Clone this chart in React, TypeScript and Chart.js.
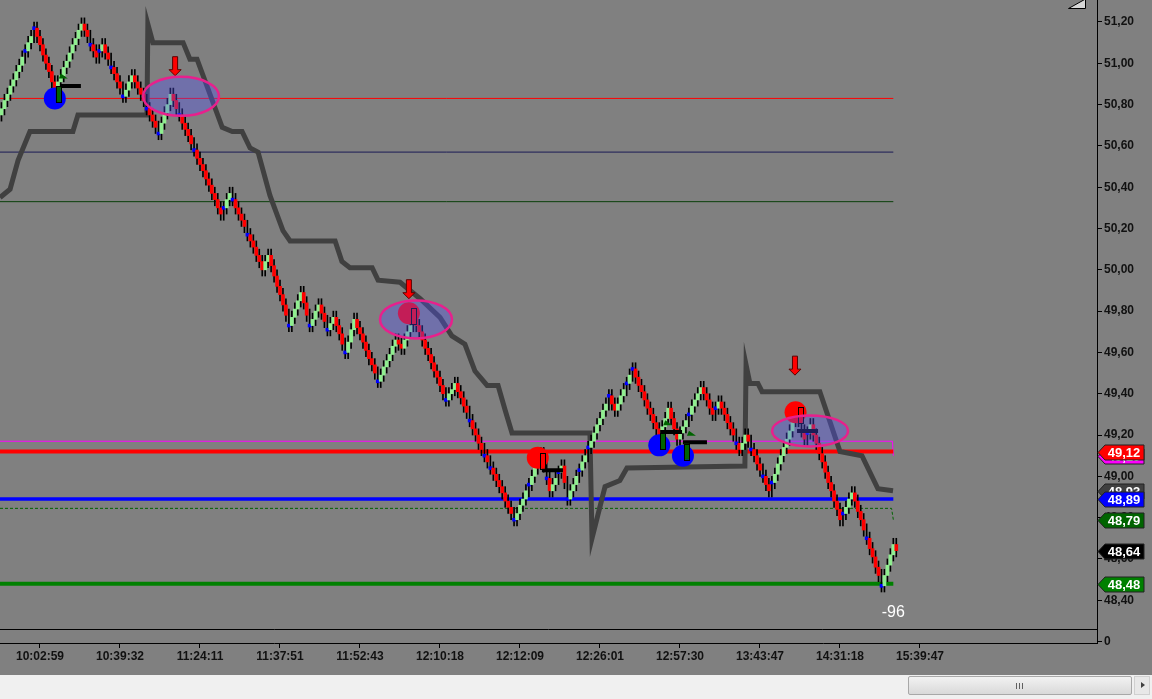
import React, { useEffect, useRef } from 'react';
import { Chart, registerables } from 'chart.js';

Chart.register(...registerables);

// ---------- data ----------
const timeLabels = ['10:02:59', '10:39:32', '11:24:11', '11:37:51', '11:52:43', '12:10:18', '12:12:09', '12:26:01', '12:57:30', '13:43:47', '14:31:18', '15:39:47'];
const tickBars = [13, 40, 67, 94, 121, 148, 175, 202, 229, 256, 283, 310];
const yTickValues = [48.4, 48.6, 48.8, 49.0, 49.2, 49.4, 49.6, 49.8, 50.0, 50.2, 50.4, 50.6, 50.8, 51.0, 51.2];

const firstOpen = 50.75;
const closes = [
  50.78, 50.82, 50.85, 50.89, 50.92, 50.96, 50.99, 51.03, 51.06, 51.10,
  51.13, 51.17, 51.13, 51.09, 51.04, 51.00, 50.96, 50.91, 50.87, 50.91,
  50.94, 50.98, 51.01, 51.05, 51.09, 51.12, 51.16, 51.19, 51.16, 51.13,
  51.09, 51.06, 51.03, 51.06, 51.09, 51.05, 51.02, 50.98, 50.95, 50.91,
  50.88, 50.84, 50.87, 50.91, 50.94, 50.91, 50.88, 50.85, 50.82, 50.78,
  50.75, 50.72, 50.69, 50.66, 50.71, 50.76, 50.80, 50.85, 50.82, 50.78,
  50.75, 50.71, 50.68, 50.65, 50.61, 50.58, 50.54, 50.51, 50.48, 50.44,
  50.41, 50.37, 50.34, 50.30, 50.27, 50.30, 50.34, 50.37, 50.34, 50.30,
  50.27, 50.24, 50.21, 50.17, 50.14, 50.11, 50.07, 50.04, 50.00, 50.04,
  50.07, 50.02, 49.97, 49.92, 49.88, 49.83, 49.78, 49.73, 49.77, 49.81,
  49.85, 49.89, 49.84, 49.78, 49.73, 49.76, 49.80, 49.83, 49.79, 49.75,
  49.71, 49.74, 49.77, 49.73, 49.69, 49.64, 49.60, 49.65, 49.71, 49.76,
  49.72, 49.69, 49.65, 49.61, 49.57, 49.54, 49.50, 49.46, 49.49, 49.53,
  49.56, 49.59, 49.63, 49.66, 49.64, 49.62, 49.66, 49.70, 49.73, 49.77,
  49.73, 49.70, 49.66, 49.62, 49.59, 49.55, 49.51, 49.48, 49.44, 49.40,
  49.37, 49.40, 49.42, 49.45, 49.41, 49.38, 49.34, 49.31, 49.27, 49.23,
  49.20, 49.16, 49.13, 49.10, 49.07, 49.04, 49.01, 48.98, 48.95, 48.92,
  48.88, 48.85, 48.82, 48.79, 48.82, 48.86, 48.89, 48.93, 48.96, 49.00,
  49.04, 49.07, 49.11, 49.05, 48.99, 48.93, 48.96, 48.99, 49.02, 49.05,
  48.97, 48.89, 48.93, 48.96, 49.00, 49.03, 49.07, 49.10, 49.14, 49.17,
  49.21, 49.25, 49.28, 49.32, 49.35, 49.39, 49.35, 49.32, 49.35, 49.39,
  49.42, 49.45, 49.49, 49.52, 49.48, 49.44, 49.41, 49.37, 49.33, 49.30,
  49.26, 49.23, 49.19, 49.24, 49.28, 49.33, 49.28, 49.23, 49.18, 49.21,
  49.24, 49.27, 49.30, 49.34, 49.37, 49.40, 49.43, 49.40, 49.37, 49.33,
  49.30, 49.33, 49.36, 49.33, 49.30, 49.26, 49.23, 49.20, 49.16, 49.13,
  49.16, 49.20, 49.17, 49.13, 49.10, 49.06, 49.03, 49.00, 48.96, 48.93,
  48.97, 49.01, 49.06, 49.10, 49.14, 49.18, 49.22, 49.27, 49.31, 49.27,
  49.22, 49.18, 49.21, 49.25, 49.20, 49.16, 49.11, 49.07, 49.02, 48.97,
  48.93, 48.88, 48.84, 48.79, 48.82, 48.85, 48.89, 48.92, 48.88, 48.83,
  48.79, 48.74, 48.70, 48.65, 48.61, 48.56, 48.52, 48.47, 48.52, 48.57,
  48.62, 48.67, 48.64,
];
const dojiBars = [8, 11, 30, 33, 37, 41, 49, 53, 60, 65, 75, 78, 83, 97, 104, 110, 116, 127, 139, 150, 158, 163, 165, 173, 178, 181, 184, 188, 191, 195, 198, 205, 211, 213, 232, 241, 248, 253, 257, 260, 268, 270, 272, 284, 292, 297];

// trailing stop (thick dark grey line), vertices
const stopBars = [-0.5, 2.9, 5.6, 9.6, 24.1, 25.8, 49.1, 49.4, 51.1, 61.3, 63.6, 66.0, 74.5, 77.9, 81.2, 83.9, 86.6, 90.6, 95.0, 97.4, 112.6, 114.9, 117.6, 125.1, 127.1, 134.5, 137.9, 141.3, 148, 152, 156.4, 159.8, 163.9, 167.6, 170, 172.3, 198.6, 199.3, 203.7, 208.7, 211.1, 250.9, 251.3, 252.6, 255.3, 256.7, 276.2, 283, 290.4, 295.8, 300.9];
const stopPrices = [50.35, 50.39, 50.53, 50.67, 50.67, 50.75, 50.75, 51.19, 51.10, 51.10, 51.02, 51.02, 50.69, 50.67, 50.67, 50.59, 50.57, 50.36, 50.19, 50.14, 50.14, 50.04, 50.01, 50.01, 49.95, 49.94, 49.90, 49.86, 49.77, 49.68, 49.64, 49.51, 49.44, 49.44, 49.32, 49.21, 49.21, 48.70, 48.95, 48.98, 49.04, 49.05, 49.54, 49.45, 49.45, 49.41, 49.41, 49.12, 49.10, 48.94, 48.93];

// horizontal levels
const levelStartBar = -0.5;
const levelEndBar = 301;
const redThinLevel = 50.83;
const navyLevel = 50.57;
const greenThinLevel = 50.33;
const magentaLevel = 49.17;
const magentaLevelEnd = 49.10;
const redLevel = 49.12;
const blueLevel = 48.89;
const dashedGreenLevel = 48.845;
const dashedGreenLevelEnd = 48.79;
const greenLevel = 48.48;
const lastTrailValue = 48.93;
const lastPrice = 48.64;

// price tags on the right axis
const tagPrices = [magentaLevelEnd, redLevel, lastTrailValue, blueLevel, dashedGreenLevelEnd, lastPrice, greenLevel];

// trade markers
const buyBars = [18, 222, 230];
const buyPrices = [50.83, 49.15, 49.10];
const sellBars = [181, 137.5, 268];
const sellPrices = [49.09, 49.79, 49.31];
const dashStartBars = [19.8, 182.4, 222.3, 230, 268.5];
const dashEndBars = [26.8, 189.5, 229.7, 238.1, 275.6];
const dashPrices = [50.89, 49.03, 49.215, 49.165, 49.22];
const arrowBars = [58.6, 137.5, 267.8];
const arrowPrices = [50.94, 49.86, 49.49];
const ellipseBars = [60.6, 139.9, 272.9];
const ellipsePrices = [50.84, 49.76, 49.22];
const indicatorValue = -96;
const indicatorBar = 301;

// axis limits
const xMin = -0.5;
const xMax = 369.74;
const yMin = 48.193;
const yMax = 51.3065;

// ---------- styles ----------
const FONT = '"Liberation Sans", Arial, sans-serif';
const tagColors = ['#FF00FF', '#FF0000', '#404040', '#0000FF', '#006400', '#000000', '#008000'];
const ellipseRx = [38, 36, 38];
const ellipseRy = [19.5, 19, 15.5];

const fmt = (v: number) => v.toFixed(2).replace('.', ',');

export default function App() {
  const ref = useRef<HTMLCanvasElement | null>(null);

  useEffect(() => {
    if (!ref.current) return;
    const dojiSet = new Set(dojiBars);
    const opens = closes.map((c, i) => (i === 0 ? firstOpen : closes[i - 1]));
    const bodies = closes.map((c, i) => {
      const o = opens[i];
      if (dojiSet.has(i)) return { x: i, y: [c - 0.007, c + 0.007] };
      return { x: i, y: [o, c] };
    });
    const bodyColors = closes.map((c, i) => (dojiSet.has(i) ? '#0000FF' : c >= opens[i] ? '#90EE90' : '#FF0000'));
    const wicks = closes.map((c, i) => {
      const o = opens[i];
      return { x: i, y: [Math.min(o, c) - 0.03, Math.max(o, c) + 0.03] };
    });
    const flat = (p: number) => [{ x: levelStartBar, y: p }, { x: levelEndBar, y: p }];
    const dashData: any[] = [];
    dashPrices.forEach((p, k) => {
      dashData.push({ x: dashStartBars[k], y: p }, { x: dashEndBars[k], y: p }, { x: dashEndBars[k] + 0.1, y: null });
    });

    const lineDs = (data: any[], color: string, width: number, order: number, extra: any = {}) => ({
      type: 'line', data, borderColor: color, borderWidth: width, pointRadius: 0, tension: 0, order, ...extra,
    });

    const bgPlugin = {
      id: 'bg',
      beforeDraw(chart: any) {
        const { ctx } = chart;
        ctx.save();
        ctx.fillStyle = '#808080';
        ctx.fillRect(0, 0, chart.width, chart.height);
        ctx.restore();
      },
    };

    const overlayPlugin = {
      id: 'overlay',
      afterDatasetsDraw(chart: any) {
        const { ctx, chartArea } = chart;
        const xs = chart.scales.x;
        const ys = chart.scales.y;
        ctx.save();
        ctx.beginPath();
        ctx.rect(chartArea.left, chartArea.top, chartArea.width, chartArea.height);
        ctx.clip();
        // buy markers details
        buyBars.forEach((b, k) => {
          const cx = xs.getPixelForValue(b);
          const cy = ys.getPixelForValue(buyPrices[k]);
          ctx.fillStyle = '#006400';
          ctx.fillRect(cx + 1, cy - 12, 5, 16);
          ctx.strokeStyle = '#000';
          ctx.lineWidth = 1;
          ctx.strokeRect(Math.round(cx + 1) + 0.5, Math.round(cy - 12) + 0.5, 5, 16);
          ctx.beginPath();
          ctx.moveTo(cx + 4, cy - 20);
          ctx.lineTo(cx + 13, cy - 20);
          ctx.lineTo(cx + 6, cy - 25);
          ctx.closePath();
          ctx.fillStyle = '#006400';
          ctx.fill();
        });
        // sell markers details
        sellBars.forEach((b, k) => {
          const cx = xs.getPixelForValue(b);
          const cy = ys.getPixelForValue(sellPrices[k]);
          ctx.fillStyle = '#FF0000';
          ctx.fillRect(cx + 2, cy - 5, 5, 16);
          ctx.strokeStyle = '#000';
          ctx.lineWidth = 1;
          ctx.strokeRect(Math.round(cx + 2) + 0.5, Math.round(cy - 5) + 0.5, 5, 16);
        });
        // arrows
        arrowBars.forEach((b, k) => {
          const ax = xs.getPixelForValue(b);
          const ay = ys.getPixelForValue(arrowPrices[k]);
          ctx.beginPath();
          ctx.moveTo(ax - 2.5, ay - 19);
          ctx.lineTo(ax + 2.5, ay - 19);
          ctx.lineTo(ax + 2.5, ay - 6);
          ctx.lineTo(ax + 6, ay - 6);
          ctx.lineTo(ax, ay);
          ctx.lineTo(ax - 6, ay - 6);
          ctx.lineTo(ax - 2.5, ay - 6);
          ctx.closePath();
          ctx.fillStyle = '#FF0000';
          ctx.fill();
          ctx.strokeStyle = '#5a0000';
          ctx.lineWidth = 1;
          ctx.stroke();
        });
        // ellipses
        ellipseBars.forEach((b, k) => {
          const cx = xs.getPixelForValue(b);
          const cy = ys.getPixelForValue(ellipsePrices[k]);
          ctx.beginPath();
          ctx.ellipse(cx, cy, ellipseRx[k], ellipseRy[k], 0, 0, Math.PI * 2);
          ctx.fillStyle = 'rgba(82,82,248,0.35)';
          ctx.fill();
          ctx.strokeStyle = '#E8208C';
          ctx.lineWidth = 2.5;
          ctx.stroke();
        });
        // indicator value
        ctx.fillStyle = '#FFFFFF';
        ctx.font = `16px ${FONT}`;
        ctx.textAlign = 'center';
        ctx.textBaseline = 'middle';
        ctx.fillText(String(indicatorValue), xs.getPixelForValue(indicatorBar), chartArea.bottom - 30);
        ctx.restore();
      },
      afterDraw(chart: any) {
        const { ctx, chartArea } = chart;
        const ys = chart.scales.y;
        ctx.save();
        // panel separator
        ctx.strokeStyle = '#000';
        ctx.lineWidth = 1;
        ctx.beginPath();
        ctx.moveTo(0, chartArea.bottom - 13.5);
        ctx.lineTo(chartArea.right, chartArea.bottom - 13.5);
        ctx.stroke();
        // indicator zero tick
        ctx.beginPath();
        ctx.moveTo(chartArea.right, chartArea.bottom - 1.5);
        ctx.lineTo(chartArea.right + 5, chartArea.bottom - 1.5);
        ctx.stroke();
        ctx.fillStyle = '#111';
        ctx.font = `bold 12px ${FONT}`;
        ctx.textAlign = 'left';
        ctx.textBaseline = 'middle';
        ctx.fillText('0', chartArea.right + 7, chartArea.bottom - 1);
        // price tags
        tagPrices.forEach((p, k) => {
          const yy = Math.round(ys.getPixelForValue(p)) + 0.5;
          const l = chartArea.right + 1;
          ctx.beginPath();
          ctx.moveTo(l, yy);
          ctx.lineTo(l + 7, yy - 7.5);
          ctx.lineTo(1144, yy - 7.5);
          ctx.lineTo(1144, yy + 7.5);
          ctx.lineTo(l + 7, yy + 7.5);
          ctx.closePath();
          ctx.fillStyle = tagColors[k];
          ctx.fill();
          ctx.strokeStyle = '#222';
          ctx.lineWidth = 1;
          ctx.stroke();
          ctx.fillStyle = '#FFFFFF';
          ctx.font = `bold 13px ${FONT}`;
          ctx.textAlign = 'center';
          ctx.textBaseline = 'middle';
          ctx.fillText(fmt(p), l + 26, yy + 0.5);
        });
        // corner icon
        ctx.beginPath();
        ctx.moveTo(1068.5, 8.5);
        ctx.lineTo(1085.5, -1);
        ctx.lineTo(1085.5, 8.5);
        ctx.closePath();
        ctx.fillStyle = '#d8d8d8';
        ctx.fill();
        ctx.strokeStyle = '#000';
        ctx.stroke();
        ctx.restore();
      },
    };

    const chart = new Chart(ref.current, {
      type: 'bar',
      data: {
        datasets: [
          lineDs(flat(redThinLevel), '#FF0000', 1, 20),
          lineDs(flat(navyLevel), '#1a1a55', 1, 20),
          lineDs(flat(greenThinLevel), '#0a3f0a', 1, 20),
          lineDs([{ x: levelStartBar, y: magentaLevel }, { x: levelEndBar - 0.3, y: magentaLevel }, { x: levelEndBar, y: magentaLevelEnd }], '#FF00FF', 1, 20),
          lineDs(flat(redLevel), '#FF0000', 4, 19),
          lineDs(flat(blueLevel), '#0000FF', 3.5, 19),
          lineDs([{ x: levelStartBar, y: dashedGreenLevel }, { x: levelEndBar - 0.6, y: dashedGreenLevel }, { x: levelEndBar, y: dashedGreenLevelEnd }], '#006400', 1, 19, { borderDash: [3, 2] }),
          lineDs(flat(greenLevel), '#008000', 4, 19),
          lineDs(stopBars.map((b, k) => ({ x: b, y: stopPrices[k] })), '#404040', 5, 10),
          {
            type: 'bar', data: wicks, backgroundColor: '#000000', barThickness: 1, grouped: false, order: 6,
          },
          {
            type: 'bar', data: bodies, backgroundColor: bodyColors, barThickness: 3, grouped: false, order: 5,
          },
          {
            type: 'line', data: buyBars.map((b, k) => ({ x: b, y: buyPrices[k] })), showLine: false,
            pointRadius: 11, pointBackgroundColor: '#0000FF', pointBorderWidth: 0, order: 3,
          },
          {
            type: 'line', data: sellBars.map((b, k) => ({ x: b, y: sellPrices[k] })), showLine: false,
            pointRadius: 11, pointBackgroundColor: '#FF0000', pointBorderWidth: 0, order: 3,
          },
          lineDs(dashData, '#000000', 4, 2, { spanGaps: false }),
        ] as any,
      },
      options: {
        animation: false,
        responsive: false,
        devicePixelRatio: 1,
        layout: { padding: 0, autoPadding: false },
        plugins: { legend: { display: false }, tooltip: { enabled: false } },
        scales: {
          x: {
            type: 'linear',
            position: 'bottom',
            offset: false,
            min: xMin,
            max: xMax,
            afterBuildTicks: (s: any) => { s.ticks = tickBars.map((v) => ({ value: v })); },
            afterFit: (s: any) => { s.height = 32; s.paddingLeft = 0; s.paddingRight = 0; },
            ticks: {
              autoSkip: false, maxRotation: 0, minRotation: 0, padding: 1, color: '#111',
              font: { family: FONT, size: 12, weight: 'bold' },
              callback: (_v: any, i: number) => timeLabels[i],
            },
            grid: { drawOnChartArea: false, drawTicks: true, tickLength: 5, color: '#000', offset: false },
            border: { display: true, color: '#000', width: 1 },
          },
          y: {
            type: 'linear',
            position: 'right',
            offset: false,
            min: yMin,
            max: yMax,
            afterBuildTicks: (s: any) => { s.ticks = yTickValues.map((v) => ({ value: v })); },
            afterFit: (s: any) => { s.width = 55; s.paddingTop = 0; s.paddingBottom = 0; },
            ticks: {
              autoSkip: false, padding: 2, color: '#111',
              font: { family: FONT, size: 12, weight: 'bold' },
              callback: (v: any) => fmt(Number(v)),
            },
            grid: { drawOnChartArea: false, drawTicks: true, tickLength: 5, color: '#000' },
            border: { display: true, color: '#000', width: 1 },
          },
        },
      } as any,
      plugins: [bgPlugin, overlayPlugin] as any,
    });
    return () => chart.destroy();
  }, []);

  return (
    <div style={{ position: 'fixed', left: 0, top: 0, width: 1152, height: 699, background: '#808080', overflow: 'hidden' }}>
      <canvas ref={ref} width={1152} height={675} style={{ display: 'block', width: 1152, height: 675 }} />
      <div style={{ position: 'absolute', left: 0, top: 675, width: 1152, height: 24, background: '#f0f0f0' }}>
        <div style={{
          position: 'absolute', left: 908, top: 1, width: 224, height: 19, boxSizing: 'border-box',
          border: '1px solid #a8a8a8', borderRadius: 2, background: 'linear-gradient(#f2f2f2, #d9d9d9)',
        }}>
          <div style={{ position: 'absolute', left: 107, top: 6, width: 1, height: 6, background: '#606060' }} />
          <div style={{ position: 'absolute', left: 110, top: 6, width: 1, height: 6, background: '#606060' }} />
          <div style={{ position: 'absolute', left: 113, top: 6, width: 1, height: 6, background: '#606060' }} />
        </div>
        <div style={{
          position: 'absolute', left: 1134, top: 1, width: 16, height: 19, boxSizing: 'border-box',
          border: '1px solid #d0d0d0', background: '#e8e8e8',
        }}>
          <div style={{
            position: 'absolute', left: 6, top: 5, width: 0, height: 0,
            borderTop: '3.5px solid transparent', borderBottom: '3.5px solid transparent', borderLeft: '4px solid #404040',
          }} />
        </div>
      </div>
    </div>
  );
}
